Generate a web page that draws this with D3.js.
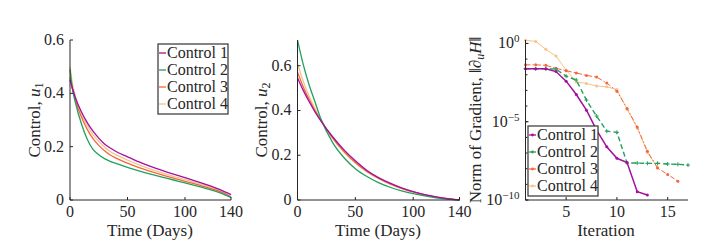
<!DOCTYPE html>
<html>
<head>
<meta charset="utf-8">
<script src="https://cdn.jsdelivr.net/npm/d3@7"></script>
<style>
  body { margin: 0; background: #fff; }
  svg text { font-family: "Liberation Serif", "DejaVu Serif", serif; fill: #262626; }
</style>
</head>
<body>
<div id="chart"></div>
<script>
// Controls u1, u2 over time and gradient norm per iteration

const seriesNames = ["Control 1", "Control 2", "Control 3", "Control 4"];
const colors = ["#a3109f", "#23a05c", "#f2683c", "#f7c28c"];

// time samples (days)
const days = [0, 2, 5, 10, 15, 20, 25, 30, 35, 40, 50, 60, 70, 80, 90, 100, 110, 120, 130, 140];

const u1Control1 = [0.45, 0.42, 0.38, 0.33, 0.29, 0.258, 0.232, 0.21, 0.195, 0.182, 0.162, 0.143, 0.126, 0.111, 0.097, 0.084, 0.07, 0.056, 0.04, 0.02];
const u1Control2 = [0.49, 0.42, 0.36, 0.285, 0.228, 0.19, 0.17, 0.155, 0.145, 0.137, 0.122, 0.109, 0.097, 0.086, 0.075, 0.064, 0.053, 0.041, 0.028, 0.01];
const u1Control3 = [0.46, 0.42, 0.37, 0.31, 0.265, 0.23, 0.205, 0.185, 0.169, 0.157, 0.138, 0.121, 0.107, 0.094, 0.082, 0.07, 0.059, 0.046, 0.032, 0.012];
const u1Control4 = [0.5, 0.44, 0.385, 0.32, 0.28, 0.245, 0.22, 0.199, 0.182, 0.17, 0.15, 0.132, 0.116, 0.102, 0.089, 0.077, 0.064, 0.051, 0.036, 0.008];

const days2 = [0, 5, 10, 15, 20, 30, 40, 50, 60, 70, 80, 90, 100, 110, 120, 130, 140];
const u2Control1 = [0.546, 0.49, 0.44, 0.395, 0.355, 0.285, 0.225, 0.175, 0.132, 0.1, 0.075, 0.054, 0.037, 0.024, 0.014, 0.006, 0];
const u2Control2 = [0.715, 0.605, 0.515, 0.44, 0.365, 0.26, 0.19, 0.14, 0.105, 0.078, 0.057, 0.041, 0.028, 0.018, 0.01, 0.004, 0];
const u2Control3 = [0.571, 0.505, 0.45, 0.4, 0.358, 0.28, 0.218, 0.168, 0.128, 0.097, 0.072, 0.052, 0.036, 0.023, 0.013, 0.005, 0];
const u2Control4 = [0.609, 0.53, 0.465, 0.41, 0.36, 0.278, 0.215, 0.165, 0.126, 0.095, 0.071, 0.051, 0.035, 0.022, 0.012, 0.005, 0];

// gradient norm per iteration
const gradControl1 = [2.4e-2, 2.4e-2, 2.4e-2, 1.6e-2, 3.9e-3, 5.5e-4, 5.5e-5, 2.9e-6, 2.5e-7, 4.6e-8, 2.5e-8, 3.4e-10, 2.1e-10];
const gradControl2 = [2.4e-2, 2.4e-2, 2.4e-2, 2.3e-2, 8.1e-3, 4.6e-3, 2.4e-4, 2.3e-5, 2.5e-6, 2.1e-6, 2.3e-8, 2.3e-8, 2.2e-8, 2.2e-8, 2.0e-8, 1.9e-8, 1.7e-8];
const gradControl3 = [4.3e-2, 4.3e-2, 4.0e-2, 2.6e-2, 1.8e-2, 1.3e-2, 9.1e-3, 7.1e-3, 3.0e-3, 8.9e-4, 7.1e-5, 4.6e-6, 1.3e-7, 1.1e-8, 4.3e-9, 1.6e-9];
const gradControl4 = [1.6, 1.35, 0.42, 0.155, 2.0e-2, 3.5e-3, 2.8e-3, 1.9e-3, 1.7e-3, 1.15e-3, 6.3e-5, 4.0e-6, 1.1e-7, 1.2e-8];

const u1Ticks = [0, 0.2, 0.4, 0.6];
const u2Ticks = [0, 0.2, 0.4, 0.6];
const dayTicks = [0, 50, 100, 140];
const iterTicks = [5, 10, 15];
const gradTicks = [0, -5, -10];

const W = 716, H = 249;
const svg = d3.select("#chart").append("svg").attr("width", W).attr("height", H)
  .attr("font-family", "'Liberation Serif', 'DejaVu Serif', serif");

const plotTop = 40, plotBottom = 200;
const axisColor = "#262626";
const serif = "'Liberation Serif', 'DejaVu Serif', serif";

function drawAxes(g, x, y, xTicks, yTicks, yFmt) {
  const [x0, x1] = x.range();
  // bottom and left axis lines
  g.append("line").attr("x1", x0).attr("x2", x1).attr("y1", plotBottom).attr("y2", plotBottom)
    .attr("stroke", axisColor).attr("stroke-width", 1);
  g.append("line").attr("x1", x0).attr("x2", x0).attr("y1", plotTop).attr("y2", plotBottom)
    .attr("stroke", axisColor).attr("stroke-width", 1);
  xTicks.forEach(t => {
    g.append("line").attr("x1", x(t)).attr("x2", x(t)).attr("y1", plotBottom).attr("y2", plotBottom - 3)
      .attr("stroke", axisColor);
    g.append("text").attr("x", x(t)).attr("y", 217).attr("text-anchor", "middle")
      .style("font-family", serif).style("font-size", "16px").text(t);
  });
  yTicks.forEach(t => {
    g.append("line").attr("x1", x0).attr("x2", x0 + 3).attr("y1", y(t)).attr("y2", y(t))
      .attr("stroke", axisColor);
    if (yFmt) yFmt(g, t, x0 - 6, y(t));
  });
}

function plainY(g, t, px, py) {
  g.append("text").attr("x", px).attr("y", py + 5).attr("text-anchor", "end")
    .style("font-family", serif).style("font-size", "16px").text(t);
}

function yLabel(g, cx, parts) {
  const t = g.append("text").attr("transform", `translate(${cx},120) rotate(-90)`)
    .attr("text-anchor", "middle").style("font-family", serif).style("font-size", "17px");
  parts.forEach(p => {
    const s = t.append("tspan").text(p.text);
    if (p.italic) s.style("font-style", "italic");
    if (p.sub) s.attr("baseline-shift", "-25%").style("font-size", "12px");
  });
}

function legend(g, lx, ly, withMarkers) {
  const lw = 70, lh = 70;
  g.append("rect").attr("x", lx).attr("y", ly).attr("width", lw).attr("height", lh)
    .attr("fill", "#fff").attr("stroke", "#333").attr("stroke-width", 1.2);
  seriesNames.forEach((n, i) => {
    const yy = ly + 9 + i * 17;
    g.append("line").attr("x1", lx + 1).attr("x2", lx + 8).attr("y1", yy).attr("y2", yy)
      .attr("stroke", colors[i]).attr("stroke-width", 1.3);
    if (withMarkers) {
      g.append("circle").attr("cx", lx + 4.5).attr("cy", yy).attr("r", 1.4).attr("fill", colors[i]);
    }
    g.append("text").attr("x", lx + 9).attr("y", yy + 5)
      .style("font-family", serif).style("font-size", "16px").text(n);
  });
}

// ---------- Panel 1: u1 ----------
{
  const g = svg.append("g");
  const x = d3.scaleLinear().domain([0, 140]).range([70, 231]);
  const y = d3.scaleLinear().domain([0, 0.6]).range([plotBottom, plotTop]);
  const line = d3.line().x((d, i) => x(days[i])).y(d => y(d)).curve(d3.curveMonotoneX);
  [u1Control4, u1Control3, u1Control2, u1Control1].forEach((s, k) => {
    g.append("path").attr("d", line(s)).attr("fill", "none")
      .attr("stroke", colors[3 - k]).attr("stroke-width", 1.3);
  });
  drawAxes(g, x, y, dayTicks, u1Ticks, plainY);
  legend(g, 158, 44, false);
  yLabel(g, 40, [{ text: "Control, " }, { text: "u", italic: true }, { text: "1", sub: true }]);
  g.append("text").attr("x", 150).attr("y", 236).attr("text-anchor", "middle")
    .style("font-family", serif).style("font-size", "17px").text("Time (Days)");
}

// ---------- Panel 2: u2 ----------
{
  const g = svg.append("g");
  const x = d3.scaleLinear().domain([0, 140]).range([297.5, 459.5]);
  const y = d3.scaleLinear().domain([0, 0.715]).range([plotBottom, plotTop]);
  const line = d3.line().x((d, i) => x(days2[i])).y(d => y(d)).curve(d3.curveMonotoneX);
  [u2Control4, u2Control3, u2Control2, u2Control1].forEach((s, k) => {
    g.append("path").attr("d", line(s)).attr("fill", "none")
      .attr("stroke", colors[3 - k]).attr("stroke-width", 1.3);
  });
  drawAxes(g, x, y, dayTicks, u2Ticks, plainY);
  yLabel(g, 267, [{ text: "Control, " }, { text: "u", italic: true }, { text: "2", sub: true }]);
  g.append("text").attr("x", 378).attr("y", 236).attr("text-anchor", "middle")
    .style("font-family", serif).style("font-size", "17px").text("Time (Days)");
}

// ---------- Panel 3: gradient norm ----------
{
  const g = svg.append("g");
  const x = d3.scaleLinear().domain([1, 17]).range([525.5, 688]);
  const y = d3.scaleLog().domain([1e-10, Math.pow(10, 0.22)]).range([plotBottom, plotTop]);
  const grads = [gradControl1, gradControl2, gradControl3, gradControl4];
  const styles = [
    { w: 1.5, dash: null },
    { w: 1.4, dash: "5,3" },
    { w: 1, dash: "5,2,1.5,2" },
    { w: 1, dash: null }
  ];
  const line = d3.line().x((d, i) => x(i + 1)).y(d => y(d));
  [3, 2, 1, 0].forEach(k => {
    const s = grads[k];
    g.append("path").attr("d", line(s)).attr("fill", "none")
      .attr("stroke", colors[k]).attr("stroke-width", styles[k].w)
      .attr("stroke-dasharray", styles[k].dash);
    s.forEach((v, i) => {
      if (k === 1) {
        g.append("path").attr("d", `M${x(i + 1) - 2},${y(v)}h4M${x(i + 1)},${y(v) - 2}v4`)
          .attr("stroke", colors[k]).attr("stroke-width", 1);
      } else {
        g.append("circle").attr("cx", x(i + 1)).attr("cy", y(v)).attr("r", 1.5).attr("fill", colors[k]);
      }
    });
  });
  // decade minor ticks
  d3.range(-10, 1).forEach(e => {
    g.append("line").attr("x1", 525.5).attr("x2", 527.5).attr("y1", y(Math.pow(10, e))).attr("y2", y(Math.pow(10, e)))
      .attr("stroke", axisColor);
  });
  drawAxes(g, x, y, iterTicks, gradTicks.map(e => Math.pow(10, e)), (gg, t, px, py) => {
    const txt = gg.append("text").attr("x", px).attr("y", py + 5).attr("text-anchor", "end")
      .style("font-family", serif).style("font-size", "16px");
    const e = Math.round(Math.log10(t));
    txt.append("tspan").text("10");
    txt.append("tspan").attr("dy", -6).style("font-size", "11px")
      .text(e === 0 ? "0" : "\u2212" + Math.abs(e));
  });
  legend(g, 528, 126, true);
  yLabel(g, 481, [{ text: "Norm of Gradient, \u2016\u2202" }, { text: "u", italic: true, sub: true },
    { text: "H", italic: true }, { text: "\u2016" }]);
  g.append("text").attr("x", 606).attr("y", 236).attr("text-anchor", "middle")
    .style("font-family", serif).style("font-size", "17px").text("Iteration");
}
</script>
</body>
</html>
